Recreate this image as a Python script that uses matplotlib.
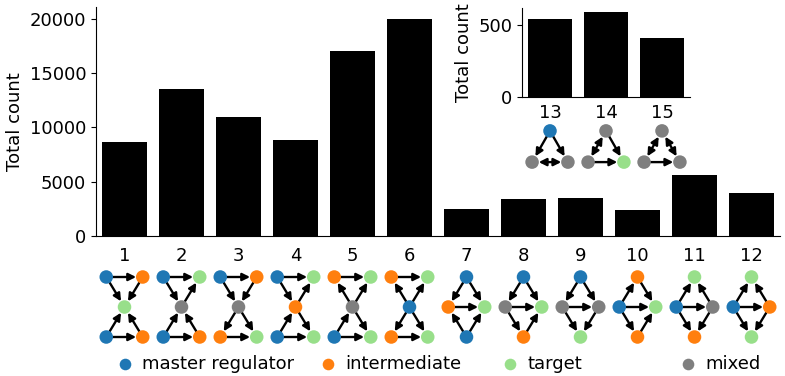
import numpy as np
import matplotlib.pyplot as plt

plt.rcParams['font.size'] = 13

# bar data
labels = [str(i) for i in range(1, 13)]
counts = [8700, 13500, 11000, 8850, 17000, 20000, 2450, 3400, 3500, 2350, 5630, 3950]
inset_labels = ['13', '14', '15']
inset_counts = [540, 586, 409]

# node roles: m=master regulator, i=intermediate, t=target, x=mixed
role_names = ['master regulator', 'intermediate', 'target', 'mixed']
role_keys = ['m', 'i', 't', 'x']
role_colors = {'m': '#1f77b4', 'i': '#ff7f0e', 't': '#98df8a', 'x': '#7f7f7f'}

# node layouts: (x offset in bar units, y in motif units)
bowtie = [(-0.32, 1), (0.32, 1), (0, 0), (-0.32, -1), (0.32, -1)]   # TL TR C BL BR
diamond = [(0, 1), (-0.32, 0), (0.32, 0), (0, -1)]                   # T L R B
triangle = [(0, 0.52), (-0.32, -0.52), (0.32, -0.52)]                # T BL BR

# motif roles and edges (src, dst, bidirectional)
motif_roles = ['mitmi', 'mtxmi', 'mixit', 'mtimt', 'itxmt', 'itmit',
               'mitm', 'mxti', 'mxxt', 'imti', 'tmxi', 'tmit']
motif_edges = [
    [(0, 1, 0), (0, 2, 0), (1, 2, 0), (3, 2, 0), (4, 2, 0), (3, 4, 0)],
    [(0, 1, 0), (0, 2, 0), (2, 1, 0), (3, 2, 0), (4, 2, 0), (3, 4, 0)],
    [(0, 1, 0), (0, 2, 0), (1, 2, 0), (2, 3, 0), (2, 4, 0), (3, 4, 0)],
    [(0, 1, 0), (0, 2, 0), (2, 1, 0), (3, 2, 0), (2, 4, 0), (3, 4, 0)],
    [(0, 1, 0), (2, 0, 0), (2, 1, 0), (3, 2, 0), (2, 4, 0), (3, 4, 0)],
    [(0, 1, 0), (2, 0, 0), (2, 1, 0), (2, 3, 0), (2, 4, 0), (3, 4, 0)],
    [(0, 1, 0), (0, 2, 0), (1, 2, 0), (3, 1, 0), (3, 2, 0)],
    [(0, 1, 0), (0, 2, 0), (1, 2, 0), (1, 3, 0), (3, 2, 0)],
    [(0, 1, 0), (0, 2, 0), (1, 2, 0), (1, 3, 0), (2, 3, 0)],
    [(1, 0, 0), (0, 2, 0), (1, 2, 0), (1, 3, 0), (3, 2, 0)],
    [(1, 0, 0), (2, 0, 0), (1, 2, 0), (1, 3, 0), (2, 3, 0)],
    [(1, 0, 0), (2, 0, 0), (1, 2, 0), (1, 3, 0), (2, 3, 0)],
]
motif_layouts = [bowtie] * 6 + [diamond] * 6
inset_roles = ['mxx', 'xxt', 'xxx']
inset_edges = [
    [(0, 1, 0), (0, 2, 0), (1, 2, 1)],
    [(0, 1, 1), (0, 2, 0), (1, 2, 0)],
    [(0, 1, 1), (0, 2, 1), (1, 2, 0)],
]


def draw_motif(ax, xc, layout, roles, edges):
    pts = [(xc + dx, dy) for dx, dy in layout]
    for a, b, both in edges:
        ax.annotate('', xy=pts[b], xytext=pts[a],
                    arrowprops=dict(arrowstyle='<|-|>' if both else '-|>',
                                    color='k', lw=1.7, mutation_scale=11,
                                    shrinkA=4.8, shrinkB=4.8))
    xs, ys = zip(*pts)
    ax.scatter(xs, ys, s=95, c=[role_colors[r] for r in roles],
               zorder=5, linewidths=0)


fig = plt.figure(figsize=(7.85, 3.76), dpi=100)
W, H = 785, 376


def px_axes(x0, y0, x1, y1):
    return fig.add_axes([x0 / W, 1 - y1 / H, (x1 - x0) / W, (y1 - y0) / H])


# main bar chart
ax = px_axes(96, 7, 780, 236)
x = np.arange(len(counts))
ax.bar(x, counts, width=0.8, color='k')
ax.set_xlim(-0.5, len(counts) - 0.5)
ax.set_ylim(0, 21100)
ax.set_yticks([0, 5000, 10000, 15000, 20000])
ax.set_xticks(x, labels)
ax.tick_params(axis='x', length=0, pad=8)
ax.set_ylabel('Total count')
ax.spines[['top', 'right']].set_visible(False)

# motifs under the main bars
mx = px_axes(96, 262, 780, 352)
mx.set_xlim(-0.5, len(counts) - 0.5)
mx.set_ylim(-1.5, 1.5)
mx.axis('off')
for i in range(len(counts)):
    draw_motif(mx, i, motif_layouts[i], motif_roles[i], motif_edges[i])

# inset bar chart
ins = px_axes(522, 8, 690, 97)
xi = np.arange(len(inset_counts))
ins.bar(xi, inset_counts, width=0.8, color='k')
ins.set_xlim(-0.5, len(inset_counts) - 0.5)
ins.set_ylim(0, 615)
ins.set_yticks([0, 500])
ins.set_xticks(xi, inset_labels)
ins.tick_params(axis='x', length=0, pad=5.3)
ins.set_ylabel('Total count')
ins.spines[['top', 'right']].set_visible(False)

imx = px_axes(522, 116.5, 690, 176.5)
imx.set_xlim(-0.5, len(inset_counts) - 0.5)
imx.set_ylim(-1, 1)
imx.axis('off')
for i in range(len(inset_counts)):
    draw_motif(imx, i, triangle, inset_roles[i], inset_edges[i])

# legend of node roles
lax = px_axes(0, 352, W, H)
lax.set_xlim(0, W)
lax.set_ylim(0, 1)
lax.axis('off')
leg_x = [125, 328, 510, 688]
for lx, key, name in zip(leg_x, role_keys, role_names):
    lax.scatter([lx], [0.5], s=70, color=role_colors[key], linewidths=0)
    lax.text(lx + 17, 0.5, name, va='center', ha='left')

fig.savefig('out.png', dpi=100)
